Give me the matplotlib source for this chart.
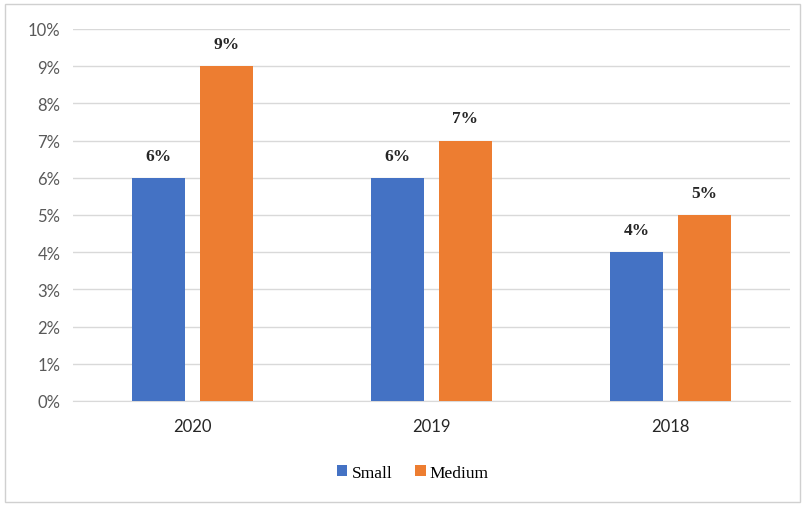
import matplotlib
matplotlib.use("Agg")
import matplotlib.pyplot as plt
import numpy as np
from matplotlib.patches import Rectangle

categories = ["2020", "2019", "2018"]
small = [6, 6, 4]
medium = [9, 7, 5]
series_names = ["Small", "Medium"]
yticks = list(range(0, 11))

blue = "#4472C4"
orange = "#ED7D31"

fig = plt.figure(figsize=(8.04, 5.06), dpi=100)
ax = fig.add_axes([73/804, 1 - 402/506, (790-73)/804, (402-30)/506])

x = np.arange(len(categories))
w = 0.222
off = 0.142
b1 = ax.bar(x - off, small, w, color=blue, label=series_names[0], zorder=3)
b2 = ax.bar(x + off, medium, w, color=orange, label=series_names[1], zorder=3)

for bars, vals in ((b1, small), (b2, medium)):
    for r, v in zip(bars, vals):
        ax.annotate(f"{v}%", (r.get_x() + r.get_width()/2, v), xytext=(0, 16),
                    textcoords="offset points", ha="center", va="center",
                    fontsize=12.5, fontweight="bold", family="Liberation Serif",
                    color="#262626")

ax.set_xlim(-0.5, 2.5)
ax.set_ylim(0, 10)
ax.set_yticks(yticks)
ax.set_yticklabels([f"{t}%" for t in yticks], family="Lato", fontsize=12, color="#595959")
ax.set_xticks(x)
ax.set_xticklabels(categories, family="Lato", fontsize=12, color="#262626")
ax.tick_params(length=0, pad=9)
ax.tick_params(axis="x", pad=12)
ax.grid(axis="y", color="#D9D9D9", linewidth=1, zorder=0)
for s in ["top", "right", "left"]:
    ax.spines[s].set_visible(False)
ax.spines["bottom"].set_color("#D9D9D9")

leg = fig.legend(handles=[b1, b2], labels=series_names, loc="center",
                 bbox_to_anchor=(413/804, 1 - 474/506), ncol=2, frameon=False,
                 prop={"family": "Liberation Serif", "size": 12.5},
                 handlelength=0.6, handleheight=0.6, handletextpad=0.25, columnspacing=1.3)

fig.patches.append(Rectangle((5/804, 3/506), 795/804, 498/506, transform=fig.transFigure,
                             fill=False, edgecolor="#D0D0D0", linewidth=1))

fig.savefig("out.png", dpi=100)
